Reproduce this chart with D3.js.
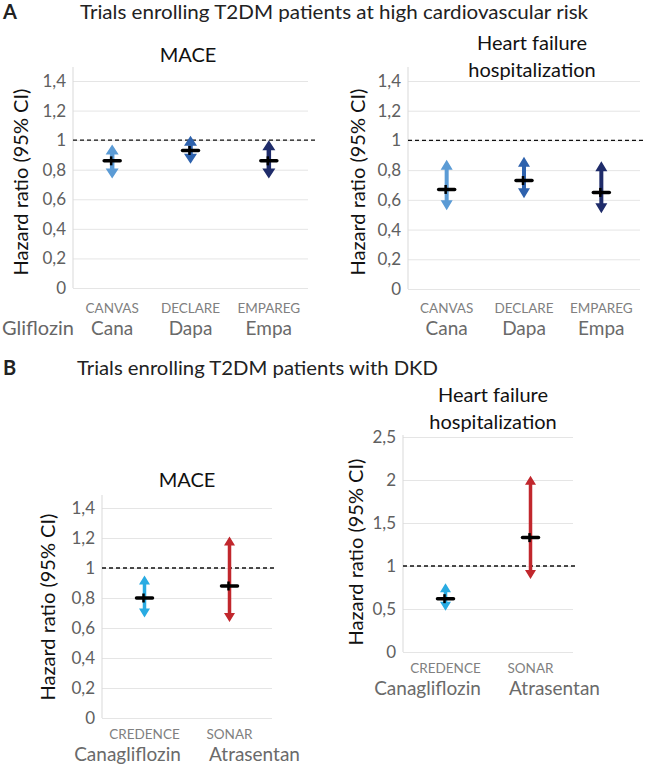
<!DOCTYPE html>
<html>
<head>
<meta charset="utf-8">
<script src="https://cdn.jsdelivr.net/npm/d3@7"></script>
<style>
  body { margin: 0; background: #fff; }
  svg { display: block; font-family: Lato, "Open Sans", sans-serif; }
</style>
</head>
<body>
<svg id="chart" width="646" height="765"></svg>
<script>
// --- data -----------------------------------------------------------------
const trialsA = ["CANVAS", "DECLARE", "EMPAREG"];
const drugsA = ["Cana", "Dapa", "Empa"];
const colorsA = ["#5b9bd5", "#2e62ad", "#1f2c6a"];

const maceA_hr = [0.86, 0.93, 0.86];
const maceA_lo = [0.74, 0.84, 0.74];
const maceA_hi = [0.97, 1.03, 1.0];

const hfA_hr = [0.67, 0.73, 0.65];
const hfA_lo = [0.53, 0.61, 0.51];
const hfA_hi = [0.87, 0.89, 0.86];

const trialsB = ["CREDENCE", "SONAR"];
const drugsB = ["Canagliflozin", "Atrasentan"];
const colorsB = ["#29abe2", "#c1272d"];

const maceB_hr = [0.8, 0.88];
const maceB_lo = [0.67, 0.64];
const maceB_hi = [0.95, 1.21];

const hfB_hr = [0.62, 1.33];
const hfB_lo = [0.48, 0.85];
const hfB_hi = [0.8, 2.05];

const ticks14 = [0, 0.2, 0.4, 0.6, 0.8, 1, 1.2, 1.4];
const ticks25 = [0, 0.5, 1, 1.5, 2, 2.5];

// --- layout ---------------------------------------------------------------
const panels = [
  {
    trials: trialsA, drugs: drugsA, colors: colorsA,
    hr: maceA_hr, lo: maceA_lo, hi: maceA_hi, ticks: ticks14, ymax: 1.4,
    x0: 73, x1: 308, y0: 288, yTop: 81, axisTop: 67, dashEnd: 315,
    title: ["MACE"], titleX: 188, titleY: [62],
    yTitle: [20, 182], trialY: 313, drugY: 335, drugShift: [0, 0, 0],
    head: 13, headLen: 10, shaft: 4.5
  },
  {
    trials: trialsA, drugs: drugsA, colors: colorsA,
    hr: hfA_hr, lo: hfA_lo, hi: hfA_hi, ticks: ticks14, ymax: 1.4,
    x0: 408, x1: 640, y0: 289, yTop: 81, axisTop: 67, dashEnd: 645,
    title: ["Heart failure", "hospitalization"], titleX: 532, titleY: [50, 77],
    yTitle: [357, 182], trialY: 313, drugY: 335, drugShift: [0, 0, 0],
    head: 12, headLen: 10, shaft: 4
  },
  {
    trials: trialsB, drugs: drugsB, colors: colorsB,
    hr: maceB_hr, lo: maceB_lo, hi: maceB_hi, ticks: ticks14, ymax: 1.4,
    x0: 102, x1: 272, y0: 718, yTop: 508, axisTop: 495, dashEnd: 274,
    title: ["MACE"], titleX: 187, titleY: [487],
    yTitle: [47, 607], trialY: 739, drugY: 761, drugShift: [-17, 25],
    head: 11, headLen: 9, shaft: 3.5
  },
  {
    trials: trialsB, drugs: drugsB, colors: colorsB,
    hr: hfB_hr, lo: hfB_lo, hi: hfB_hi, ticks: ticks25, ymax: 2.5,
    x0: 403, x1: 573, y0: 652, yTop: 437, axisTop: 435, dashEnd: 576,
    title: ["Heart failure", "hospitalization"], titleX: 493, titleY: [402, 429],
    yTitle: [355, 552], trialY: 673, drugY: 695, drugShift: [-18, 24],
    head: 11, headLen: 9, shaft: 3.5
  }
];

const svg = d3.select("#chart");
const fmt = (v) => String(v).replace(".", ",");

// panel letters and headings
svg.append("text").attr("x", 3).attr("y", 19)
  .attr("font-size", 20).attr("font-weight", "bold").attr("fill", "#222").text("A");
svg.append("text").attr("x", 80).attr("y", 19)
  .attr("font-size", 20).attr("fill", "#222")
  .attr("textLength", 508).attr("lengthAdjust", "spacingAndGlyphs")
  .text("Trials enrolling T2DM patients at high cardiovascular risk");
svg.append("text").attr("x", 3).attr("y", 375)
  .attr("font-size", 20).attr("font-weight", "bold").attr("fill", "#222").text("B");
svg.append("text").attr("x", 77).attr("y", 375)
  .attr("font-size", 20).attr("fill", "#222")
  .attr("textLength", 361).attr("lengthAdjust", "spacingAndGlyphs")
  .text("Trials enrolling T2DM patients with DKD");

svg.append("text").attr("x", 2).attr("y", 335)
  .attr("font-size", 20).attr("fill", "#666").text("Gliflozin");

panels.forEach(drawPanel);

function drawPanel(p) {
  const x = d3.scaleBand().domain(p.trials).range([p.x0, p.x1]);
  const y = d3.scaleLinear().domain([0, p.ymax]).range([p.y0, p.yTop]);
  const g = svg.append("g");

  // gridlines + tick labels
  const axis = g.append("g")
    .attr("transform", `translate(${p.x0},0)`)
    .call(d3.axisLeft(y).tickValues(p.ticks).tickSize(-(p.x1 - p.x0))
      .tickPadding(7).tickFormat(fmt));
  axis.select(".domain").remove();
  axis.selectAll(".tick line").attr("stroke", "#e5e5e5").attr("stroke-width", 1);
  axis.selectAll(".tick text")
    .attr("font-size", 17).attr("fill", "#606060")
    .attr("font-family", "Lato, sans-serif");

  // vertical axis line
  g.append("line")
    .attr("x1", p.x0).attr("x2", p.x0)
    .attr("y1", p.axisTop).attr("y2", y(0))
    .attr("stroke", "#d9d9d9").attr("stroke-width", 1);

  // reference line at HR = 1
  g.append("line")
    .attr("x1", p.x0).attr("x2", p.dashEnd)
    .attr("y1", y(1)).attr("y2", y(1))
    .attr("stroke", "#111").attr("stroke-width", 1.3)
    .attr("stroke-dasharray", "4,3");

  // titles
  p.title.forEach((t, i) => {
    g.append("text").attr("x", p.titleX).attr("y", p.titleY[i])
      .attr("text-anchor", "middle").attr("font-size", 20).attr("fill", "#111")
      .text(t);
  });
  g.append("text")
    .attr("transform", `translate(${p.yTitle[0]},${p.yTitle[1]}) rotate(-90)`)
    .attr("text-anchor", "middle").attr("dominant-baseline", "central")
    .attr("font-size", 20).attr("fill", "#111")
    .text("Hazard ratio (95% CI)");

  // category labels
  p.trials.forEach((t, i) => {
    const cx = x(t) + x.bandwidth() / 2;
    g.append("text").attr("x", cx).attr("y", p.trialY)
      .attr("text-anchor", "middle").attr("font-size", 13.5).attr("fill", "#808080")
      .text(t);
    g.append("text").attr("x", cx + p.drugShift[i]).attr("y", p.drugY)
      .attr("text-anchor", "middle").attr("font-size", 19).attr("fill", "#6a6a6a")
      .text(p.drugs[i]);
  });

  // double-headed CI arrows
  const rows = p.trials.map((t, i) => ({
    t, hr: p.hr[i], lo: p.lo[i], hi: p.hi[i], color: p.colors[i]
  }));
  g.selectAll(".ci").data(rows).enter().append("path")
    .attr("class", "ci")
    .attr("fill", (d) => d.color)
    .attr("d", (d) => {
      const cx = x(d.t) + x.bandwidth() / 2;
      const yt = y(d.hi), yb = y(d.lo);
      const hw = p.head / 2, sw = p.shaft / 2, hl = p.headLen;
      return `M${cx},${yt} L${cx + hw},${yt + hl} L${cx + sw},${yt + hl} ` +
        `L${cx + sw},${yb - hl} L${cx + hw},${yb - hl} L${cx},${yb} ` +
        `L${cx - hw},${yb - hl} L${cx - sw},${yb - hl} L${cx - sw},${yt + hl} ` +
        `L${cx - hw},${yt + hl} Z`;
    });

  // point estimates
  const pts = g.selectAll(".pt").data(rows).enter().append("g")
    .attr("class", "pt")
    .attr("transform", (d) => `translate(${x(d.t) + x.bandwidth() / 2},${y(d.hr)})`);
  pts.append("line").attr("x1", -8).attr("x2", 8)
    .attr("stroke", "#000").attr("stroke-width", 3.5).attr("stroke-linecap", "round");
  pts.append("line").attr("x1", -1).attr("x2", -1).attr("y1", -4.5).attr("y2", 4.5)
    .attr("stroke", "#000").attr("stroke-width", 2.5);
}
</script>
</body>
</html>
